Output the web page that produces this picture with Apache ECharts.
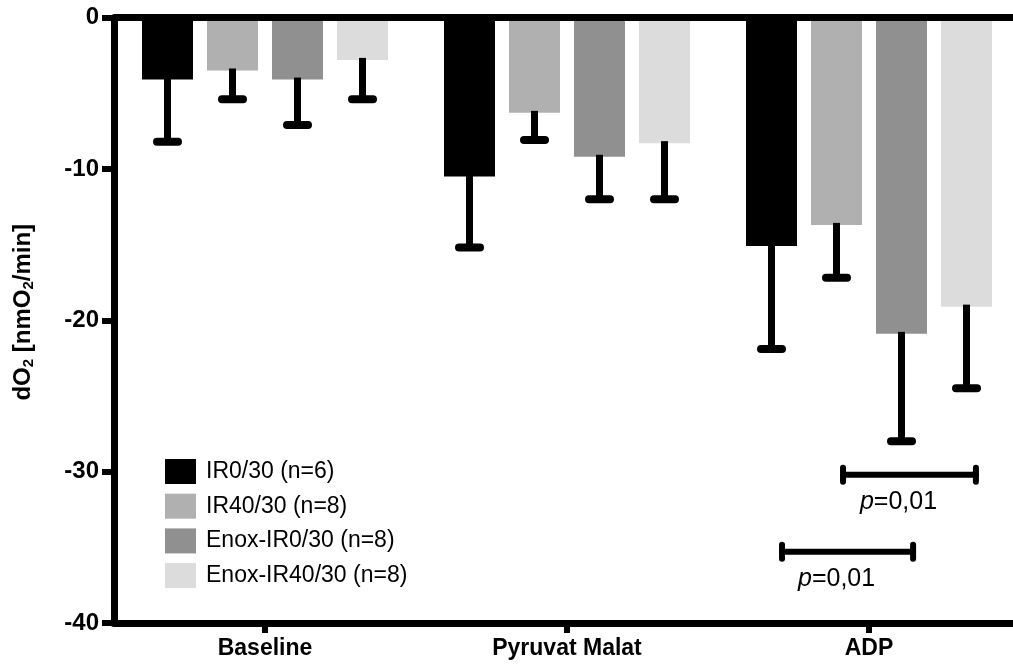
<!DOCTYPE html>
<html>
<head>
<meta charset="utf-8">
<script src="https://cdn.jsdelivr.net/npm/echarts@6/dist/echarts.min.js"></script>
<style>
  html, body { margin: 0; padding: 0; background: #fff; }
  #chart { width: 1013px; height: 666px; }
</style>
</head>
<body>
<div id="chart"></div>
<script>
const categories = ['Baseline', 'Pyruvat Malat', 'ADP']
const seriesNames = ['IR0/30 (n=6)', 'IR40/30 (n=8)', 'Enox-IR0/30 (n=8)', 'Enox-IR40/30 (n=8)']
const colors = ['#000000', '#b0b0b0', '#909090', '#dcdcdc']

// mean values (dO2, nmO2/min)
const ir0 = [-4.1, -10.5, -15.1]
const ir40 = [-3.5, -6.3, -13.7]
const enoxIr0 = [-4.1, -9.2, -20.9]
const enoxIr40 = [-2.8, -8.3, -19.1]
const means = [ir0, ir40, enoxIr0, enoxIr40]

// lower end of the error bars (mean - SD)
const ir0Err = [-8.2, -15.2, -21.9]
const ir40Err = [-5.4, -8.1, -17.2]
const enoxIr0Err = [-7.1, -12.0, -28.0]
const enoxIr40Err = [-5.4, -12.0, -24.5]
const errEnds = [ir0Err, ir40Err, enoxIr0Err, enoxIr40Err]

// significance brackets: [category, y, from, to] (from/to as fraction of band from centre)
const brackets = [
  [2, -30.2, -0.086, 0.354],
  [2, -35.3, -0.288, 0.146]
]

const BAR_W = 51
const BAR_STEP = 65
const font = 'Liberation Sans, Arial, Helvetica, sans-serif'

const el = document.getElementById('chart')
const chart = echarts.init(el)

function errorSeries(i) {
  return {
    type: 'custom',
    name: seriesNames[i] + ' err',
    z: 3,
    silent: true,
    data: categories.map((c, k) => [k, means[i][k], errEnds[i][k]]),
    renderItem(params, api) {
      const top = api.coord([api.value(0), api.value(1)])
      const bot = api.coord([api.value(0), api.value(2)])
      const x = top[0] + (i - 1.5) * BAR_STEP
      return {
        type: 'group',
        children: [
          { type: 'line', shape: { x1: x, y1: top[1] - 2, x2: x, y2: bot[1] }, style: { stroke: '#000', lineWidth: 7 } },
          { type: 'line', shape: { x1: x - 10.5, y1: bot[1], x2: x + 10.5, y2: bot[1] }, style: { stroke: '#000', lineWidth: 8, lineCap: 'round' } }
        ]
      }
    }
  }
}

const bars = means.map((vals, i) => ({
  type: 'bar',
  name: seriesNames[i],
  data: vals,
  barWidth: BAR_W,
  barGap: ((BAR_STEP - BAR_W) / BAR_W * 100) + '%',
  itemStyle: { color: colors[i] },
  z: 2,
  markLine: i === 0 ? {
    silent: true,
    symbol: 'none',
    label: { show: false },
    lineStyle: { color: '#000', width: 7, type: 'solid' },
    data: [{ yAxis: 0 }]
  } : undefined
}))

const bracketSeries = {
  type: 'custom',
  silent: true,
  z: 4,
  data: brackets,
  renderItem(params, api) {
    const c = api.coord([api.value(0), api.value(1)])
    const band = api.size([1, 0])[0]
    const x1 = c[0] + api.value(2) * band
    const x2 = c[0] + api.value(3) * band
    const y = c[1]
    const ls = { stroke: '#000', lineWidth: 6, lineCap: 'round' }
    return {
      type: 'group',
      children: [
        { type: 'line', shape: { x1, y1: y, x2, y2: y }, style: ls },
        { type: 'line', shape: { x1, y1: y - 7, x2: x1, y2: y + 7 }, style: ls },
        { type: 'line', shape: { x1: x2, y1: y - 7, x2, y2: y + 7 }, style: ls },
        {
          type: 'text',
          x: (x1 + x2) / 2 - 11,
          y: y + 27,
          style: {
            text: '{i|p}=0,01',
            rich: { i: { fontStyle: 'italic', fontSize: 25, fontFamily: font } },
            fontSize: 25, fontFamily: font, fill: '#000',
            align: 'center', verticalAlign: 'middle'
          }
        }
      ]
    }
  }
}

chart.setOption({
  backgroundColor: '#fff',
  animation: false,
  grid: { left: 114, top: 17.5, width: 906, bottom: 43, outerBoundsMode: 'none', containLabel: false },
  legend: {
    orient: 'vertical',
    left: 160,
    top: 454,
    itemWidth: 31,
    itemHeight: 25,
    itemGap: 9.7,
    icon: 'rect',
    data: seriesNames,
    selectedMode: false,
    textStyle: { fontSize: 23, fontFamily: font, color: '#000', padding: [0, 0, 0, 5] }
  },
  xAxis: {
    type: 'category',
    data: categories,
    position: 'bottom',
    axisLine: { show: true, onZero: false, lineStyle: { color: '#000', width: 7 } },
    axisTick: { show: true, inside: false, alignWithLabel: true, length: 10, lineStyle: { color: '#000', width: 6 } },
    axisLabel: { color: '#000', fontWeight: 'bold', fontSize: 23, fontFamily: font, margin: 14 }
  },
  yAxis: {
    type: 'value',
    min: -40,
    max: 0,
    interval: 10,
    name: 'dO{s|2} [nmO{s|2}/min]',
    nameLocation: 'middle',
    nameRotate: 90,
    nameGap: 78,
    nameTextStyle: {
      color: '#000', fontWeight: 'bold', fontSize: 24, fontFamily: font, padding: [0, 0, 0, 16],
      rich: { s: { fontSize: 15, fontWeight: 'bold', fontFamily: font, verticalAlign: 'bottom', padding: [11, 0, 0, 0] } }
    },
    axisLine: { show: true, lineStyle: { color: '#000', width: 7 } },
    axisTick: { show: true, inside: false, length: 12, lineStyle: { color: '#000', width: 6 } },
    axisLabel: { color: '#000', fontWeight: 'bold', fontSize: 24, fontFamily: font, margin: 15 },
    splitLine: { show: false }
  },
  series: [...bars, ...means.map((_, i) => errorSeries(i)), bracketSeries]
})

window.addEventListener('resize', () => chart.resize())
</script>
</body>
</html>
